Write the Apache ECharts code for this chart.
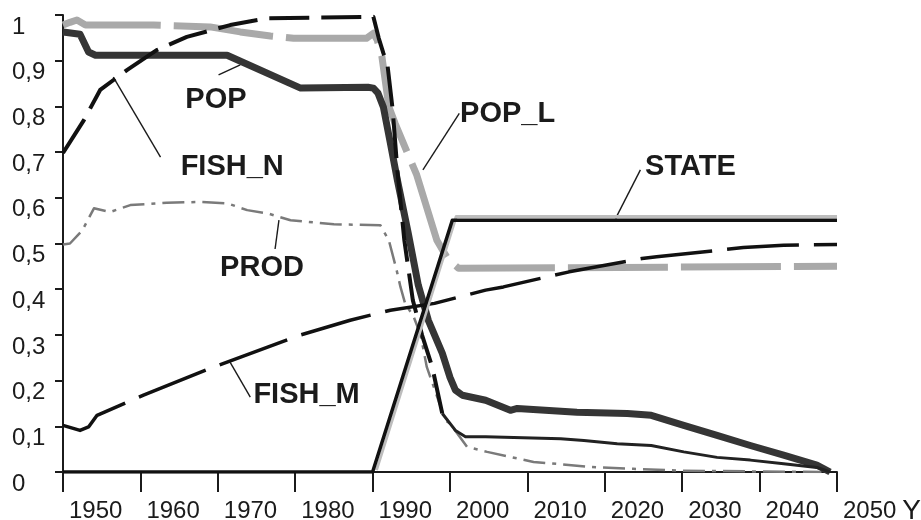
<!DOCTYPE html>
<html>
<head>
<meta charset="utf-8">
<script src="https://cdn.jsdelivr.net/npm/echarts@6/dist/echarts.min.js"></script>
<style>
  html, body { margin: 0; padding: 0; background: #ffffff; }
  #chart { width: 921px; height: 520px; }
</style>
</head>
<body>
<div id="chart"></div>
<script>
// ---- x-axis ticks ----
const yearTicks = [1950, 1960, 1970, 1980, 1990, 2000, 2010, 2020, 2030, 2040, 2050];

// ---- POP ----
const popYears  = [1950, 1952.2, 1953.3, 1954.2, 1971.2, 1980.7, 1989.4, 1990.1, 1990.7, 1991.4, 1992.3, 1993.2, 1994.6, 1995.9, 1997.2, 1999.0, 2000.0, 2000.7, 2001.6, 2004.6, 2007.8, 2008.7, 2016.4, 2022.9, 2026.0, 2030.2, 2034.5, 2038.8, 2043.1, 2047.4, 2049.1];
const popValues = [0.963, 0.958, 0.919, 0.912, 0.912, 0.840, 0.842, 0.840, 0.829, 0.798, 0.719, 0.639, 0.523, 0.409, 0.332, 0.260, 0.207, 0.179, 0.168, 0.157, 0.135, 0.139, 0.131, 0.128, 0.124, 0.102, 0.080, 0.058, 0.037, 0.015, 0.0];

// ---- POP_L ----
const popLYears  = [1950, 1950.9, 1951.8, 1952.9, 1961.7, 1969.0, 1972.9, 1976.8, 1979.8, 1989.2, 1990.1, 1990.6, 1991.2, 1992.1, 1992.9, 1995.7, 1998.3, 1999.8, 2001.1, 2050];
const popLValues = [0.978, 0.984, 0.989, 0.978, 0.978, 0.974, 0.963, 0.954, 0.949, 0.949, 0.960, 0.945, 0.909, 0.799, 0.763, 0.650, 0.507, 0.464, 0.446, 0.450];

// ---- FISH_N ----
const fishNYears  = [1950, 1952.7, 1954.8, 1958.3, 1962.1, 1966.0, 1971.6, 1976.4, 1989.7, 1990.1, 1990.8, 1991.4, 1991.9, 1992.6, 1993.2, 1994.1, 1995.2, 1996.4, 1997.7, 1999.0, 2000.7, 2002.0, 2004.6, 2014.3, 2017.3, 2021.6, 2026.0, 2030.2, 2034.5, 2038.8, 2043.1, 2047.4, 2049.1];
const fishNValues = [0.698, 0.770, 0.836, 0.880, 0.923, 0.952, 0.978, 0.993, 0.996, 0.996, 0.949, 0.916, 0.894, 0.792, 0.660, 0.507, 0.376, 0.299, 0.230, 0.128, 0.091, 0.077, 0.077, 0.073, 0.069, 0.062, 0.058, 0.044, 0.032, 0.026, 0.018, 0.010, 0.0];
// the dashed stroke of FISH_N stops at this year; the tail is drawn solid
const fishNDashEnd = 1999.0;

// ---- PROD ----
const prodYears  = [1950, 1950.9, 1952.5, 1954.0, 1956.1, 1958.7, 1963.4, 1967.7, 1971.2, 1973.8, 1976.4, 1979.4, 1985.0, 1991.0, 1992.1, 1993.1, 1993.6, 1994.2, 1995.3, 1996.2, 1997.0, 1999.4, 2000.0, 2002.2, 2004.8, 2007.8, 2010.8, 2014.3, 2018.1, 2023.7, 2030.0, 2040.0, 2048.0];
const prodValues = [0.498, 0.500, 0.529, 0.577, 0.569, 0.584, 0.589, 0.591, 0.588, 0.573, 0.566, 0.551, 0.542, 0.540, 0.507, 0.442, 0.405, 0.369, 0.340, 0.300, 0.230, 0.113, 0.106, 0.055, 0.044, 0.033, 0.022, 0.017, 0.011, 0.007, 0.003, 0.001, 0.0];

// ---- FISH_M ----
const fishMYears  = [1950, 1952.2, 1953.3, 1954.4, 1960.4, 1969.5, 1980.7, 1987.1, 1992.3, 1998.0, 2004.6, 2006.9, 2015.4, 2024.8, 2026.7, 2037.9, 2043.1, 2050];
const fishMValues = [0.102, 0.091, 0.0985, 0.124, 0.168, 0.230, 0.300, 0.332, 0.354, 0.369, 0.398, 0.405, 0.438, 0.467, 0.471, 0.491, 0.496, 0.498];

// ---- STATE (and its light trace) ----
const stateYears   = [1950, 1990.0, 2000.3, 2050];
const stateValues  = [0.0, 0.0, 0.551, 0.551];
const traceYears   = [1990.5, 2000.8, 2050];
const traceValues  = [0.004, 0.559, 0.559];

// ---- curve labels: text anchor and leader line, in axis units ----
const labelNames  = ['POP', 'FISH_N', 'PROD', 'POP_L', 'STATE', 'FISH_M'];
const labelAt     = [[1965.8, 0.814], [1965.2, 0.667], [1970.3, 0.447], [2001.3, 0.784], [2025.2, 0.667], [1974.6, 0.168]];
const leaderFrom  = [[1970.1, 0.869], [1962.6, 0.689], [1977.9, 0.551], [1996.5, 0.661], [2021.4, 0.555], [1971.6, 0.240]];
const leaderTo    = [[1972.9, 0.891], [1956.5, 0.864], [1977.4, 0.488], [2001.2, 0.785], [2024.6, 0.661], [1974.2, 0.164]];

const pairs = (xs, ys) => xs.map((x, i) => [x, ys[i]]);
const TICK_FONT = "'Liberation Sans Narrow', 'Arial Narrow', 'Liberation Sans', Arial, sans-serif";
const TEXT_FONT = "'Liberation Sans', Arial, sans-serif";
const INK = '#1b1b1b';

const fishNAll = pairs(fishNYears, fishNValues);
const fishNHead = fishNAll.filter(p => p[0] <= fishNDashEnd);
const fishNTail = fishNAll.filter(p => p[0] >= fishNDashEnd);

function lineSeries(name, data, style) {
  return {
    type: 'line', name, data,
    showSymbol: false, symbol: 'none', smooth: false,
    animation: false, silent: true,
    lineStyle: Object.assign({ cap: 'butt', join: 'round' }, style)
  };
}

const chart = echarts.init(document.getElementById('chart'), null, { renderer: 'canvas' });

chart.setOption({
  backgroundColor: '#ffffff',
  animation: false,
  grid: { left: 63, right: 84, top: 15, bottom: 48, containLabel: false, outerBoundsMode: 'none' },
  xAxis: {
    type: 'value', min: yearTicks[0], max: yearTicks[yearTicks.length - 1], interval: 10,
    name: 'Y', nameLocation: 'end', nameGap: 62,
    nameTextStyle: { fontFamily: TEXT_FONT, fontSize: 28, color: INK, verticalAlign: 'top', padding: [25, 0, 0, 0] },
    axisLine: { lineStyle: { color: INK, width: 2 } },
    axisTick: { show: true, inside: false, length: 20, lineStyle: { color: INK, width: 2 } },
    axisLabel: {
      showMinLabel: true, showMaxLabel: true,
      align: 'left', padding: [0, 0, 0, 6], margin: 27,
      fontFamily: TICK_FONT, fontSize: 24, color: INK,
      formatter: v => String(v)
    },
    splitLine: { show: false }
  },
  yAxis: {
    type: 'value', min: 0, max: 1, interval: 0.1,
    axisLine: { show: true, lineStyle: { color: INK, width: 2 } },
    axisTick: { show: true, inside: false, length: 8, lineStyle: { color: INK, width: 2 } },
    axisLabel: {
      showMinLabel: true, showMaxLabel: true,
      align: 'left', verticalAlign: 'top', margin: 51,
      fontFamily: TICK_FONT, fontSize: 24, color: INK,
      formatter: v => String(Math.round(v * 10) / 10).replace('.', ',')
    },
    splitLine: { show: false }
  },
  series: [
    lineSeries('POP_L', pairs(popLYears, popLValues), { color: '#a9a9a9', width: 7, type: [100, 13] }),
    lineSeries('PROD', pairs(prodYears, prodValues), { color: '#7a7a7a', width: 2.5, type: [22, 7, 4, 7] }),
    lineSeries('POP', pairs(popYears, popValues), { color: '#353535', width: 7 }),
    lineSeries('FISH_N', fishNHead, { color: '#111111', width: 4, type: [40, 12] }),
    lineSeries('FISH_N', fishNTail, { color: '#222222', width: 3 }),
    lineSeries('FISH_M', pairs(fishMYears, fishMValues), { color: '#111111', width: 3.5, type: [72, 15] }),
    lineSeries('STATE', pairs(traceYears, traceValues), { color: '#bdbdbd', width: 3 }),
    lineSeries('STATE', pairs(stateYears, stateValues), { color: '#111111', width: 3.5 })
  ]
});

// curve labels with their leader lines, placed through the grid's coordinate system
const toPx = p => chart.convertToPixel({ gridIndex: 0 }, p);
const graphics = [];
labelNames.forEach((name, i) => {
  const a = toPx(leaderFrom[i]);
  const b = toPx(leaderTo[i]);
  graphics.push({
    type: 'line', silent: true,
    shape: { x1: a[0], y1: a[1], x2: b[0], y2: b[1] },
    style: { stroke: INK, lineWidth: 1.4 }
  });
  const t = toPx(labelAt[i]);
  graphics.push({
    type: 'text', silent: true,
    style: {
      text: name, x: t[0], y: t[1],
      font: 'bold 29px ' + TEXT_FONT, fill: INK,
      align: 'left', verticalAlign: 'middle'
    }
  });
});
chart.setOption({ graphic: graphics });
</script>
</body>
</html>
